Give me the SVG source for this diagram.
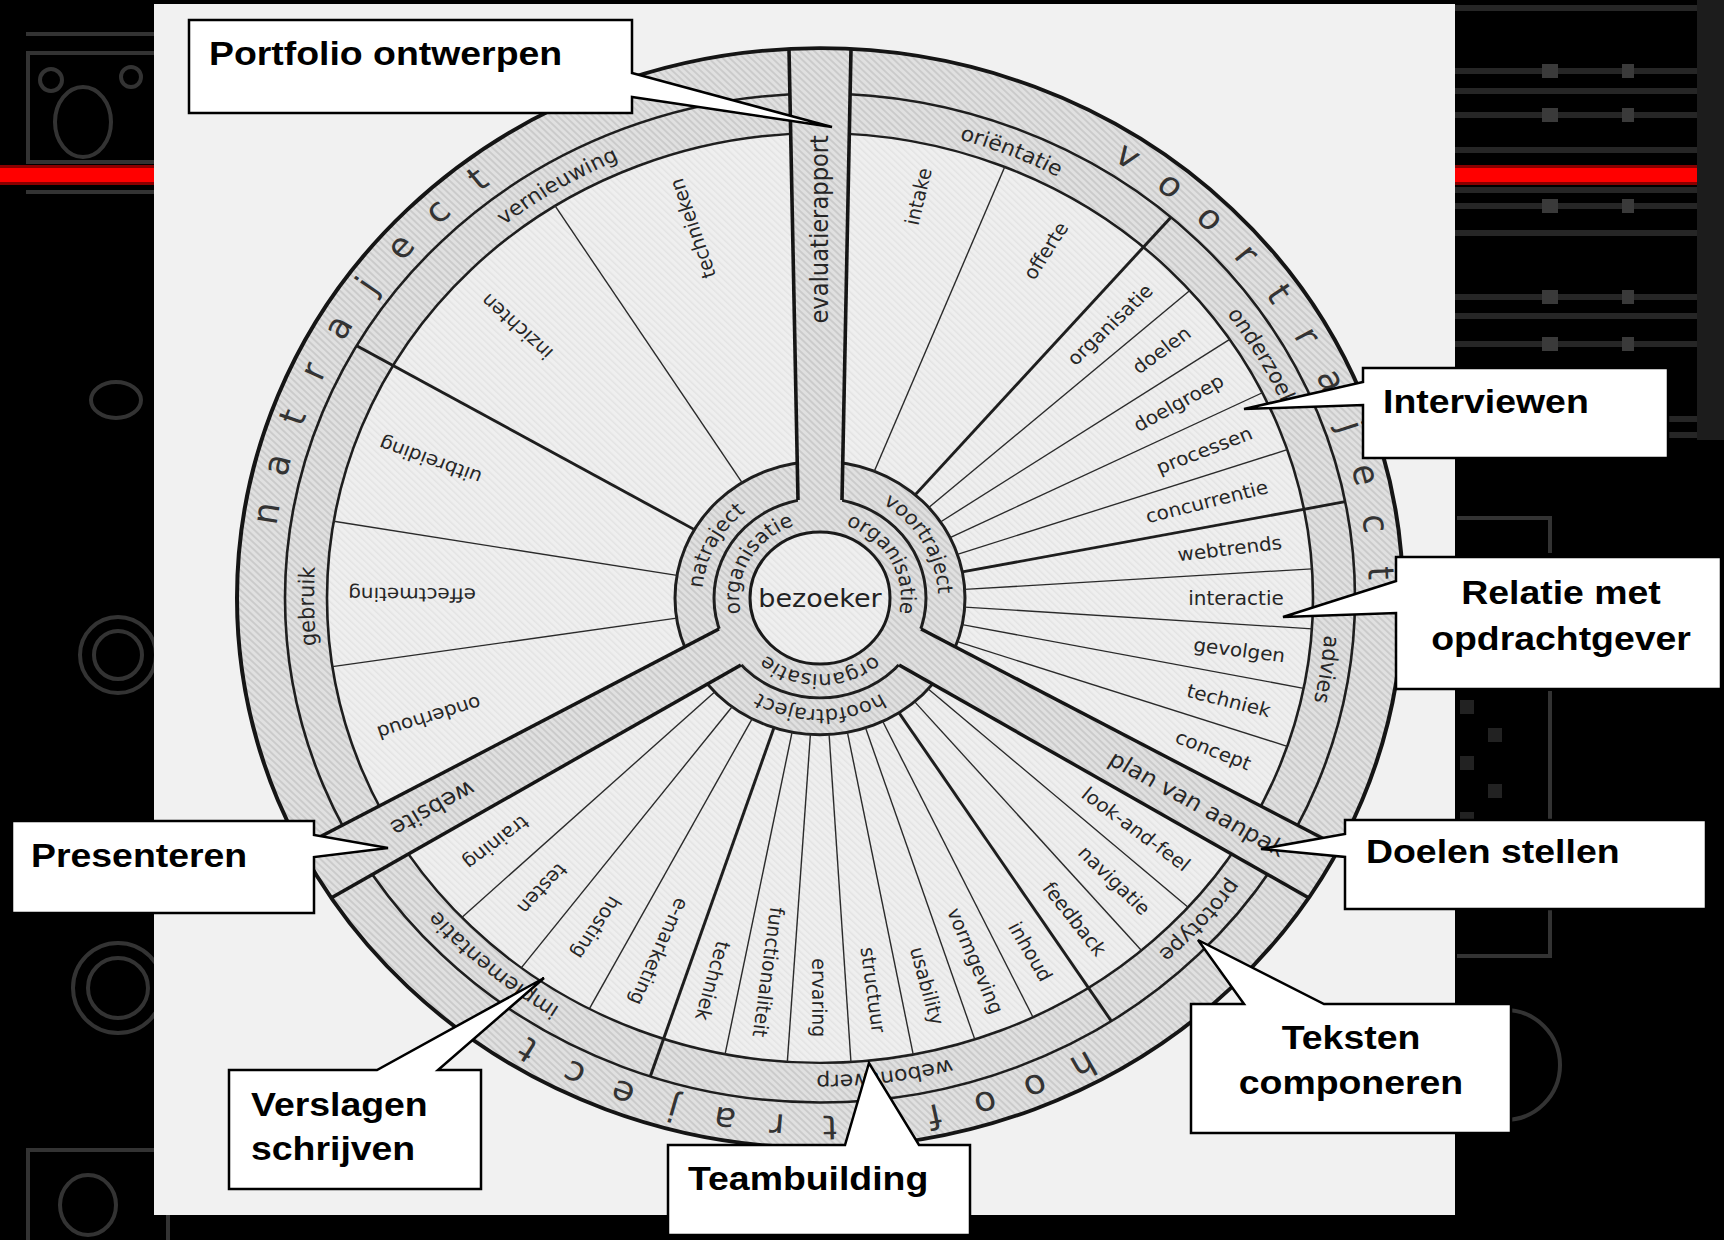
<svg xmlns="http://www.w3.org/2000/svg" width="1724" height="1240" viewBox="0 0 1724 1240">
<defs>
<style>
.rl{font-family:'DejaVu Sans',sans-serif;font-size:20px;fill:#262626;text-anchor:middle}
.rg{font-family:'DejaVu Sans',sans-serif;font-size:22px;fill:#262626;text-anchor:middle}
.ri{font-family:'DejaVu Sans',sans-serif;font-size:21px;fill:#262626;text-anchor:middle}
.bl{font-family:'DejaVu Sans',sans-serif;font-size:24px;fill:#262626;text-anchor:middle}
.bg{font-family:'DejaVu Sans',sans-serif;font-size:36px;fill:#333;text-anchor:middle}
.thin{stroke:#2a2a2a;stroke-width:1.4;fill:none}
.thick{stroke:#1e1e1e;stroke-width:3;fill:none}
.ring{stroke:#1e1e1e;stroke-width:2.6;fill:none}
.co{fill:#fff;stroke:#000;stroke-width:2.5}
.ct{font-family:'Liberation Sans',Arial,sans-serif;font-weight:bold;font-size:34px;fill:#000}
.dec{fill:none;stroke:#333;stroke-width:4}
.dk{stroke:#262626;stroke-width:6}
</style>
<pattern id="hatch" width="5" height="5" patternUnits="userSpaceOnUse" patternTransform="rotate(-45)">
<rect width="5" height="5" fill="#e0e0e0"/>
<rect width="2" height="5" fill="#cbcbcb"/>
</pattern>
<pattern id="light" width="5" height="5" patternUnits="userSpaceOnUse" patternTransform="rotate(-45)">
<rect width="5" height="5" fill="#efefef"/>
<rect width="1.5" height="5" fill="#e3e3e3"/>
</pattern>
<clipPath id="wclip"><circle r="583"/></clipPath>
<path id="a506" d="M-438.2,-253 A506,506 0 0 1 438.2,-253"/>
<path id="a118" d="M-102.2,-59 A118,118 0 0 1 102.2,-59"/>
<path id="a81" d="M-70.1,-40.5 A81,81 0 0 1 70.1,-40.5"/>
</defs>

<rect width="1724" height="1240" fill="#000"/>

<g id="decor">
<line class="dec" x1="26" y1="34" x2="154" y2="34" stroke="#2a2a2a"/>
<rect class="dec" x="28" y="53" width="140" height="109"/>
<circle class="dec" cx="51" cy="80" r="11"/>
<circle class="dec" cx="131" cy="77" r="10"/>
<ellipse class="dec" cx="83" cy="122" rx="28" ry="35"/>
<line class="dec" x1="26" y1="192" x2="154" y2="192" stroke="#2a2a2a"/>
<ellipse class="dec" cx="116" cy="400" rx="25" ry="18" stroke="#222"/>
<circle class="dec" cx="118" cy="655" r="38" stroke="#2a2a2a"/>
<circle class="dec" cx="118" cy="655" r="24" stroke="#1e1e1e"/>
<circle class="dec" cx="118" cy="988" r="45" stroke="#2a2a2a"/>
<circle class="dec" cx="118" cy="988" r="30" stroke="#1e1e1e"/>
<rect class="dec" x="28" y="1150" width="140" height="100" stroke="#2a2a2a"/>
<ellipse class="dec" cx="88" cy="1205" rx="28" ry="30" stroke="#2a2a2a"/>
<rect x="0" y="165" width="1724" height="20" fill="#8a0000"/>
<rect x="0" y="168" width="1724" height="14" fill="#ff0000"/>
<g class="dk">
<line x1="1455" y1="8" x2="1724" y2="8"/>
<line x1="1455" y1="71" x2="1724" y2="71"/>
<line x1="1455" y1="91" x2="1724" y2="91"/>
<line x1="1455" y1="115" x2="1724" y2="115"/>
<line x1="1455" y1="150" x2="1724" y2="150"/>
<line x1="1455" y1="190" x2="1724" y2="190"/>
<line x1="1455" y1="206" x2="1724" y2="206"/>
<line x1="1455" y1="233" x2="1724" y2="233"/>
<line x1="1455" y1="297" x2="1724" y2="297"/>
<line x1="1455" y1="316" x2="1724" y2="316"/>
<line x1="1455" y1="344" x2="1724" y2="344"/>
<line x1="1455" y1="419" x2="1724" y2="419"/>
<line x1="1455" y1="435" x2="1724" y2="435"/>
</g>
<g fill="#3a3a3a">
<rect x="1542" y="64" width="16" height="14"/><rect x="1622" y="64" width="12" height="14"/>
<rect x="1542" y="108" width="16" height="14"/><rect x="1622" y="108" width="12" height="14"/>
<rect x="1542" y="199" width="16" height="14"/><rect x="1622" y="199" width="12" height="14"/>
<rect x="1542" y="290" width="16" height="14"/><rect x="1622" y="290" width="12" height="14"/>
<rect x="1542" y="337" width="16" height="14"/><rect x="1622" y="337" width="12" height="14"/>
<rect x="1697" y="0" width="27" height="440" fill="#1c1c1c"/>
</g>
<path d="M1457,518 H1550 V553" class="dec" stroke="#2a2a2a"/>
<path d="M1550,691 V956 H1457" class="dec" stroke="#2a2a2a"/>
<g fill="#222">
<rect x="1460" y="700" width="14" height="14"/><rect x="1488" y="728" width="14" height="14"/>
<rect x="1460" y="756" width="14" height="14"/><rect x="1488" y="784" width="14" height="14"/>
<rect x="1460" y="812" width="14" height="14"/><rect x="1488" y="840" width="14" height="14"/>
<rect x="1460" y="868" width="14" height="14"/><rect x="1488" y="896" width="14" height="14"/>
</g>
<circle cx="1505" cy="1065" r="55" class="dec" stroke="#2a2a2a"/>
</g>

<rect id="page" x="154" y="4" width="1301" height="1211" fill="#f1f1f1"/>

<g id="wheel" transform="translate(820,598) scale(1,0.943)">
<g id="fills">
<circle r="583" fill="url(#hatch)"/>
<circle r="493" fill="url(#light)"/>
<circle r="145" fill="url(#hatch)"/>
<circle r="70" fill="url(#light)"/>
</g>
<g id="rings">
<circle class="ring" r="535"/>
<circle class="ring" r="493"/>
<circle class="thick" r="145"/>
<circle class="thick" r="106"/>
</g>
<g id="dividers">
<g class="thin">
<line x1="145" x2="493" transform="rotate(-122.5)"/>
<line x1="145" x2="493" transform="rotate(171.5)"/>
<line x1="145" x2="493" transform="rotate(189.5)"/>
<line x1="145" x2="493" transform="rotate(-68)"/>
<line x1="145" x2="493" transform="rotate(-41.4)"/>
<line x1="145" x2="493" transform="rotate(-33.8)"/>
<line x1="145" x2="493" transform="rotate(-26.2)"/>
<line x1="145" x2="493" transform="rotate(-18.6)"/>
<line x1="145" x2="493" transform="rotate(-3.6)"/>
<line x1="145" x2="493" transform="rotate(3.8)"/>
<line x1="145" x2="493" transform="rotate(11.2)"/>
<line x1="145" x2="493" transform="rotate(18.6)"/>
<line x1="145" x2="493" transform="rotate(41.7)"/>
<line x1="145" x2="493" transform="rotate(49.3)"/>
<line x1="145" x2="493" transform="rotate(64.4)"/>
<line x1="145" x2="493" transform="rotate(71.7)"/>
<line x1="145" x2="493" transform="rotate(79.1)"/>
<line x1="145" x2="493" transform="rotate(86.4)"/>
<line x1="145" x2="493" transform="rotate(93.8)"/>
<line x1="145" x2="493" transform="rotate(101.1)"/>
<line x1="145" x2="493" transform="rotate(117.9)"/>
<line x1="145" x2="493" transform="rotate(127.3)"/>
<line x1="145" x2="493" transform="rotate(136.6)"/>
</g>
<g class="thick">
<line x1="145" x2="535" transform="rotate(210)"/>
<line x1="145" x2="535" transform="rotate(-49)"/>
<line x1="145" x2="535" transform="rotate(-11)"/>
<line x1="145" x2="535" transform="rotate(57)"/>
<line x1="145" x2="535" transform="rotate(108.5)"/>
</g>
</g>
<g id="bars" clip-path="url(#wclip)" fill="url(#hatch)">
<polygon points="-22,-100 22,-100 32,-600 -32,-600"/>
<polygon points="75.6,69.05 97.6,30.95 535.6,272.3 503.6,327.7"/>
<polygon points="-97.6,30.95 -75.6,69.05 -503.6,327.7 -535.6,272.3"/>
</g>
<g id="bar-edges" stroke="#151515" stroke-width="3.6" fill="none">
<line x1="-22" y1="-104" x2="-31" y2="-582"/>
<line x1="22" y1="-104" x2="31" y2="-582"/>
<line x1="79.07" y1="71.05" x2="488.5" y2="317.85"/>
<line x1="101.07" y1="32.95" x2="519.5" y2="264.15"/>
<line x1="-101.07" y1="32.95" x2="-519.5" y2="264.15"/>
<line x1="-79.07" y1="71.05" x2="-488.5" y2="317.85"/>
</g>
<circle r="70" fill="none" stroke="#1a1a1a" stroke-width="3"/>
<circle r="583" fill="none" stroke="#151515" stroke-width="4"/>

<g id="outer-letters">
<text class="bg" transform="rotate(279.2)" y="-549">n</text>
<text class="bg" transform="rotate(284.6)" y="-549">a</text>
<text class="bg" transform="rotate(290)" y="-549">t</text>
<text class="bg" transform="rotate(295.4)" y="-549">r</text>
<text class="bg" transform="rotate(300.8)" y="-549">a</text>
<text class="bg" transform="rotate(306.2)" y="-549">j</text>
<text class="bg" transform="rotate(311.6)" y="-549">e</text>
<text class="bg" transform="rotate(317)" y="-549">c</text>
<text class="bg" transform="rotate(322.4)" y="-549">t</text>
<text class="bg" transform="rotate(33.3)" y="-549">v</text>
<text class="bg" transform="rotate(38.7)" y="-549">o</text>
<text class="bg" transform="rotate(44.1)" y="-549">o</text>
<text class="bg" transform="rotate(49.5)" y="-549">r</text>
<text class="bg" transform="rotate(54.9)" y="-549">t</text>
<text class="bg" transform="rotate(60.3)" y="-549">r</text>
<text class="bg" transform="rotate(65.7)" y="-549">a</text>
<text class="bg" transform="rotate(71.1)" y="-549">j</text>
<text class="bg" transform="rotate(76.5)" y="-549">e</text>
<text class="bg" transform="rotate(81.9)" y="-549">c</text>
<text class="bg" transform="rotate(87.3)" y="-549">t</text>
<text class="bg" transform="rotate(152)" y="-549">h</text>
<text class="bg" transform="rotate(157.4)" y="-549">o</text>
<text class="bg" transform="rotate(162.8)" y="-549">o</text>
<text class="bg" transform="rotate(168.2)" y="-549">f</text>
<text class="bg" transform="rotate(173.6)" y="-549">d</text>
<text class="bg" transform="rotate(179)" y="-549">t</text>
<text class="bg" transform="rotate(184.4)" y="-549">r</text>
<text class="bg" transform="rotate(189.8)" y="-549">a</text>
<text class="bg" transform="rotate(195.2)" y="-549">j</text>
<text class="bg" transform="rotate(200.6)" y="-549">e</text>
<text class="bg" transform="rotate(206)" y="-549">c</text>
<text class="bg" transform="rotate(211.4)" y="-549">t</text>
</g>

<g id="ring-labels">
<text class="rg" transform="rotate(-31)"><textPath href="#a506" startOffset="50%">vernieuwing</textPath></text>
<text class="rg" transform="rotate(269)"><textPath href="#a506" startOffset="50%">gebruik</textPath></text>
<text class="rg" transform="rotate(22)"><textPath href="#a506" startOffset="50%">oriëntatie</textPath></text>
<text class="rg" transform="rotate(60)"><textPath href="#a506" startOffset="50%">onderzoek</textPath></text>
<text class="rg" transform="rotate(98.5)"><textPath href="#a506" startOffset="50%">advies</textPath></text>
<text class="rg" transform="rotate(132)"><textPath href="#a506" startOffset="50%">prototype</textPath></text>
<text class="rg" transform="rotate(172.7)"><textPath href="#a506" startOffset="50%">webontwerp</textPath></text>
<text class="rg" transform="rotate(220)"><textPath href="#a506" startOffset="50%">implementatie</textPath></text>
<text class="ri" transform="rotate(-62)"><textPath href="#a118" startOffset="50%">natraject</textPath></text>
<text class="ri" transform="rotate(60)"><textPath href="#a118" startOffset="50%">voortraject</textPath></text>
<text class="ri" transform="rotate(180)"><textPath href="#a118" startOffset="50%">hoofdtraject</textPath></text>
<text class="ri" transform="rotate(-60)"><textPath href="#a81" startOffset="50%">organisatie</textPath></text>
<text class="ri" transform="rotate(60)"><textPath href="#a81" startOffset="50%">organisatie</textPath></text>
<text class="ri" transform="rotate(180)"><textPath href="#a81" startOffset="50%">organisatie</textPath></text>
</g>

<g id="bar-labels">
<text class="bl" transform="rotate(-90)" x="391" dy=".35em">evaluatierapport</text>
<text class="bl" transform="rotate(150)" x="447" dy=".35em">website</text>
<text class="bl" transform="rotate(30)" x="436" dy=".35em">plan van aanpak</text>
</g>

<text id="bezoeker" x="0" y="0" dy=".35em" font-family="'DejaVu Sans',sans-serif" font-size="27" fill="#222" text-anchor="middle">bezoeker</text>

<g id="segment-labels">
<text class="rl" transform="rotate(-108)" x="412" dy=".35em">technieken</text>
<text class="rl" transform="rotate(-136.5)" x="418" dy=".35em">inzichten</text>
<text class="rl" transform="rotate(200.5)" x="416" dy=".35em">uitbreiding</text>
<text class="rl" transform="rotate(180.5)" x="408" dy=".35em">effectmeting</text>
<text class="rl" transform="rotate(162)" x="411" dy=".35em">onderhoud</text>
<text class="rl" transform="rotate(-77)" x="437" dy=".35em">intake</text>
<text class="rl" transform="rotate(-58.5)" x="432" dy=".35em">offerte</text>
<text class="rl" transform="rotate(-45)" x="410" dy=".35em">organisatie</text>
<text class="rl" transform="rotate(-37.6)" x="431" dy=".35em">doelen</text>
<text class="rl" transform="rotate(-30)" x="414" dy=".35em">doelgroep</text>
<text class="rl" transform="rotate(-22.2)" x="415" dy=".35em">processen</text>
<text class="rl" transform="rotate(-14.8)" x="400" dy=".35em">concurrentie</text>
<text class="rl" transform="rotate(-7.3)" x="413" dy=".35em">webtrends</text>
<text class="rl" transform="rotate(0)" x="416" dy=".35em">interactie</text>
<text class="rl" transform="rotate(7.5)" x="423" dy=".35em">gevolgen</text>
<text class="rl" transform="rotate(14.9)" x="423" dy=".35em">techniek</text>
<text class="rl" transform="rotate(22.3)" x="425" dy=".35em">concept</text>
<text class="rl" transform="rotate(37.8)" x="400" dy=".35em">look-and-feel</text>
<text class="rl" transform="rotate(45.5)" x="420" dy=".35em">navigatie</text>
<text class="rl" transform="rotate(53.2)" x="425" dy=".35em">feedback</text>
<text class="rl" transform="rotate(60.7)" x="430" dy=".35em">inhoud</text>
<text class="rl" transform="rotate(68)" x="415" dy=".35em">vormgeving</text>
<text class="rl" transform="rotate(75.4)" x="425" dy=".35em">usability</text>
<text class="rl" transform="rotate(82.7)" x="419" dy=".35em">structuur</text>
<text class="rl" transform="rotate(90.1)" x="424" dy=".35em">ervaring</text>
<text class="rl" transform="rotate(97.4)" x="400" dy=".35em">functionaliteit</text>
<text class="rl" transform="rotate(104.8)" x="420" dy=".35em">techniek</text>
<text class="rl" transform="rotate(113.2)" x="408" dy=".35em">e-marketing</text>
<text class="rl" transform="rotate(122.6)" x="415" dy=".35em">hosting</text>
<text class="rl" transform="rotate(132)" x="415" dy=".35em">testen</text>
<text class="rl" transform="rotate(141.3)" x="415" dy=".35em">training</text>
</g>
</g>

<g id="connectors">
<g id="callout-portfolio">
<path class="co" d="M189,20 H632 V73 L832,127 L632,97 V113 H189 Z"/>
<text class="ct" transform="translate(209,65) scale(1.1,1)">Portfolio ontwerpen</text>
</g>
<g id="callout-interviewen">
<path class="co" d="M1363,368 H1668 V458 H1363 V405 L1244,409 L1363,382 Z"/>
<text class="ct" transform="translate(1383,413) scale(1.1,1)">Interviewen</text>
</g>
<g id="callout-relatie">
<path class="co" d="M1396,557 H1721 V689 H1396 V613 L1283,617 L1396,581 Z"/>
<text class="ct" text-anchor="middle" transform="translate(1561,604) scale(1.1,1)">Relatie met</text>
<text class="ct" text-anchor="middle" transform="translate(1561,650) scale(1.1,1)">opdrachtgever</text>
</g>
<g id="callout-doelen">
<path class="co" d="M1345,820 H1706 V909 H1345 V857 L1261,849 L1345,834 Z"/>
<text class="ct" transform="translate(1366,863) scale(1.1,1)">Doelen stellen</text>
</g>
<g id="callout-teksten">
<path class="co" d="M1191,1004 H1244 L1198,940 L1324,1004 H1511 V1133 H1191 Z"/>
<text class="ct" text-anchor="middle" transform="translate(1351,1049) scale(1.1,1)">Teksten</text>
<text class="ct" text-anchor="middle" transform="translate(1351,1094) scale(1.1,1)">componeren</text>
</g>
<g id="callout-presenteren">
<path class="co" d="M12,821 H314 V835 L388,848 L314,857 V913 H12 Z"/>
<text class="ct" transform="translate(31,867) scale(1.1,1)">Presenteren</text>
</g>
<g id="callout-verslagen">
<path class="co" d="M229,1070 H377 L544,978 L438,1070 H481 V1189 H229 Z"/>
<text class="ct" transform="translate(251,1116) scale(1.1,1)">Verslagen</text>
<text class="ct" transform="translate(251,1160) scale(1.1,1)">schrijven</text>
</g>
<g id="callout-teambuilding">
<path class="co" d="M668,1145 H845 L869,1063 L919,1145 H970 V1235 H668 Z"/>
<text class="ct" transform="translate(688,1190) scale(1.1,1)">Teambuilding</text>
</g>
</g>
</svg>
